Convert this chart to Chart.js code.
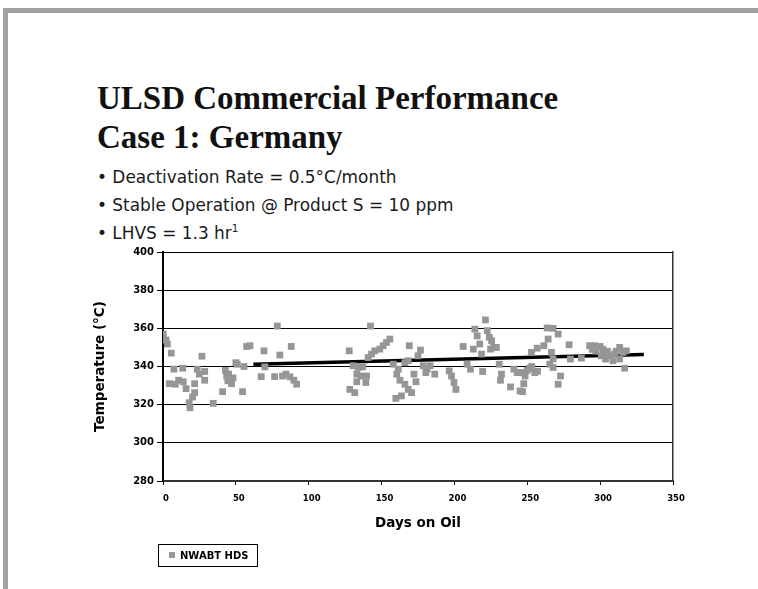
<!DOCTYPE html>
<html>
<head>
<meta charset="utf-8">
<script src="https://cdn.jsdelivr.net/npm/chart.js@4.4.1/dist/chart.umd.min.js"></script>
<style>
  html, body { margin: 0; padding: 0; background: #fff; }
  #page { position: relative; width: 758px; height: 589px; overflow: hidden; background: #fff; }
  .bar-top { position: absolute; left: 3px; top: 8px; width: 755px; height: 5px; background: #a0a0a0; }
  .bar-left { position: absolute; left: 3px; top: 8px; width: 5px; height: 581px; background: #a0a0a0; }
  .title {
    position: absolute; left: 97px; top: 79px; margin: 0;
    font-family: "Liberation Serif", "Times New Roman", serif; font-weight: bold;
    font-size: 33px; line-height: 39px; color: #111;
  }
  .bullets {
    position: absolute; left: 97px; top: 163px; margin: 0; padding: 0; list-style: none;
    font-family: "DejaVu Sans", sans-serif;
    font-size: 18px; line-height: 28px; color: #1a1a1a;
    transform: scaleX(0.94); transform-origin: left top;
  }
  .bullets sup { font-size: 11px; vertical-align: 7px; line-height: 0; }
  #tsChart { position: absolute; left: 0; top: 0; }
  #legend {
    position: absolute; left: 158px; top: 544px; width: 100px; height: 23px;
    border: 1px solid #000; box-sizing: border-box;
    font-family: "DejaVu Sans", sans-serif; font-weight: bold; font-size: 10px;
    line-height: 21px; color: #000; white-space: nowrap;
  }
  #legend .swatch { display: inline-block; width: 6px; height: 6px; background: #969696; margin: 0 5px 1px 10px; }
</style>
</head>
<body>
<div id="page">
  <div class="bar-top"></div>
  <div class="bar-left"></div>
  <h1 class="title">ULSD Commercial Performance<br>Case 1: Germany</h1>
  <ul class="bullets">
    <li>• Deactivation Rate = 0.5°C/month</li>
    <li>• Stable Operation @ Product S = 10 ppm</li>
    <li>• LHVS = 1.3 hr<sup>1</sup></li>
  </ul>
  <canvas id="tsChart" width="758" height="589"></canvas>
  <div id="legend"></div>
</div>
<script>
const seriesName = "NWABT HDS";

// days on oil / reactor temperature
const daysOnOil = [
  0.2, 2.1, 3, 5.7, 7.5, 13.5, 4.3, 8.5, 10.7, 13.9, 15.8, 21.7, 21.7, 20.3, 18, 18.5,
  23.5, 24.9, 28.6, 28.6, 26.7, 34.5, 40.9, 42.8, 43.7, 45, 46.5, 44.5, 47, 48, 50, 51,
  55.6, 54.6, 57.4, 59.7,
  69.3, 78.4, 80.2, 88, 69.9, 67.4, 76.6, 82, 84.4, 87.1, 89.8, 91.7,
  127.8, 142.4, 155.7, 153.4, 151.1, 148.8, 145.4, 143.1, 140.8, 130.5, 134, 137, 133,
  135.8, 139.7, 139.2, 133, 128.2, 131.6, 169, 176.7, 175, 158, 161.5, 160.4, 162.6, 166,
  168.3, 170.6, 159.8, 163.6, 166, 168.3, 172.2, 173.6, 178.6, 181.3, 180.4,
  183.3, 186.5, 196.4, 198, 199.7, 201, 206, 208.7, 211, 213, 214, 215.6, 217.4, 218.6,
  219.4, 221.3, 222.5, 223.9, 225.5, 227, 224.8, 228.8, 230.7, 232.3, 231.6, 238.5, 240.8,
  243.1, 245,
  246, 247.6, 246.7, 251.7, 255.1, 252.9, 256.8, 261.4, 264.3, 263.6, 267.7, 271.2, 266.6,
  267.7, 265.4, 267.7, 272.8, 271.2, 278.7, 279.6, 287.1, 292.8, 296.2, 298.5, 301.9, 303.7,
  300.8, 306.6, 310, 313.4, 315.7, 318, 308.8, 313.4, 316.8,
  250, 253, 257, 248.5, 294.5, 297, 300, 303, 305, 311
];
const temperature = [
  357, 353.9, 351.8, 347, 338.6, 339.1, 331, 330.7, 332.8, 332, 328.4, 331, 326.3, 324, 321, 318.4,
  338.6, 336, 337.4, 332.8, 345.4, 320.7, 326.8, 338, 335, 336, 333, 332.5, 331, 334, 342, 341.2,
  340, 326.8, 350.5, 350.9,
  348.2, 361.2, 346, 350.5, 339.8, 334.7, 334.7, 335, 336, 334.6, 332.8, 330.7,
  348.2, 361.2, 354.4, 352.6, 350.9, 349.1, 348.2, 346.5, 344.7, 340.4, 339.5, 339.8, 336,
  335, 335, 331.6, 332, 328, 326.3, 350.9, 348.6, 345.6, 341.2, 338.6, 336, 332.8, 330.7,
  328, 326.3, 323.3, 324.6, 342, 343, 336, 332, 340.4, 338.6, 336.8,
  340.4, 336, 337.7, 335, 331.6, 328, 350.5, 341.2, 338.6, 349.1, 359.6, 356, 351.8, 346.5,
  337.4, 364.4, 358.8, 355.3, 353.5, 350, 349.1, 350, 341.2, 336, 332.8, 329.3, 338.6,
  336.8, 327.2,
  336.8, 331, 326.8, 339.1, 336.8, 347.4, 349.6, 350.9, 354.4, 360.2, 360, 357, 347.4,
  343.9, 341.2, 339.5, 335, 330.7, 351.4, 343.9, 344.4, 350.9, 350.9, 350, 349, 343.9,
  345.6, 345.6, 346.5, 350, 347.4, 348.2, 343, 343.9, 339.1,
  338, 340, 337.5, 335, 349, 348, 350.5, 347, 348, 348
];

// fitted trend, two ends
const trendDays = [62, 330];
const trendTemps = [341.2, 346.3];

const xTicks = { min: 0, max: 350, step: 50 };
const yTicks = { min: 280, max: 400, step: 20 };

function zip(xs, ys) {
  return xs.map((x, i) => ({ x, y: ys[i] }));
}

function renderLegend() {
  const el = document.getElementById("legend");
  el.innerHTML = `<span class="swatch"></span>${seriesName}`;
}

function renderChart() {
  const ctx = document.getElementById("tsChart");
  const axisFont = { family: "'DejaVu Sans', sans-serif", weight: "bold" };

  new Chart(ctx, {
    type: "scatter",
    data: {
      datasets: [
        {
          label: seriesName,
          data: zip(daysOnOil, temperature),
          pointStyle: "rect",
          pointRadius: 4.8,
          pointHoverRadius: 4.8,
          backgroundColor: "#969696",
          borderWidth: 0
        },
        {
          label: "trend",
          type: "line",
          data: zip(trendDays, trendTemps),
          borderColor: "#000",
          borderWidth: 3.5,
          pointRadius: 0,
          fill: false
        }
      ]
    },
    options: {
      responsive: false,
      animation: false,
      devicePixelRatio: 1,
      layout: { padding: { left: 92, right: 85, top: 252, bottom: 57 } },
      plugins: { legend: { display: false }, tooltip: { enabled: false } },
      scales: {
        x: {
          type: "linear",
          min: xTicks.min,
          max: xTicks.max,
          afterFit: s => { s.height = 51; },
          ticks: {
            stepSize: xTicks.step,
            padding: 9,
            labelOffset: 3,
            color: "#000",
            font: { ...axisFont, size: 8.5 }
          },
          grid: { drawOnChartArea: false, color: "#000", tickLength: 4 },
          border: { color: "#333", width: 2 },
          title: {
            display: true,
            text: "Days on Oil",
            color: "#000",
            padding: 0,
            font: { ...axisFont, size: 13.5 }
          }
        },
        y: {
          min: yTicks.min,
          max: yTicks.max,
          afterFit: s => { s.width = 71; },
          ticks: {
            stepSize: yTicks.step,
            padding: 3,
            color: "#000",
            font: { ...axisFont, size: 10 }
          },
          grid: { color: "#000", lineWidth: 1, tickLength: 6 },
          border: { color: "#000", width: 2 },
          title: {
            display: true,
            text: "Temperature (°C)",
            color: "#000",
            padding: 0,
            font: { ...axisFont, size: 13.5 }
          }
        },
        y2: {
          position: "right",
          min: yTicks.min,
          max: yTicks.max,
          afterFit: s => { s.width = 0; },
          ticks: { display: false },
          grid: { display: false },
          border: { display: true, color: "#333", width: 1.5 }
        }
      }
    }
  });
}

renderLegend();
renderChart();
</script>
</body>
</html>
